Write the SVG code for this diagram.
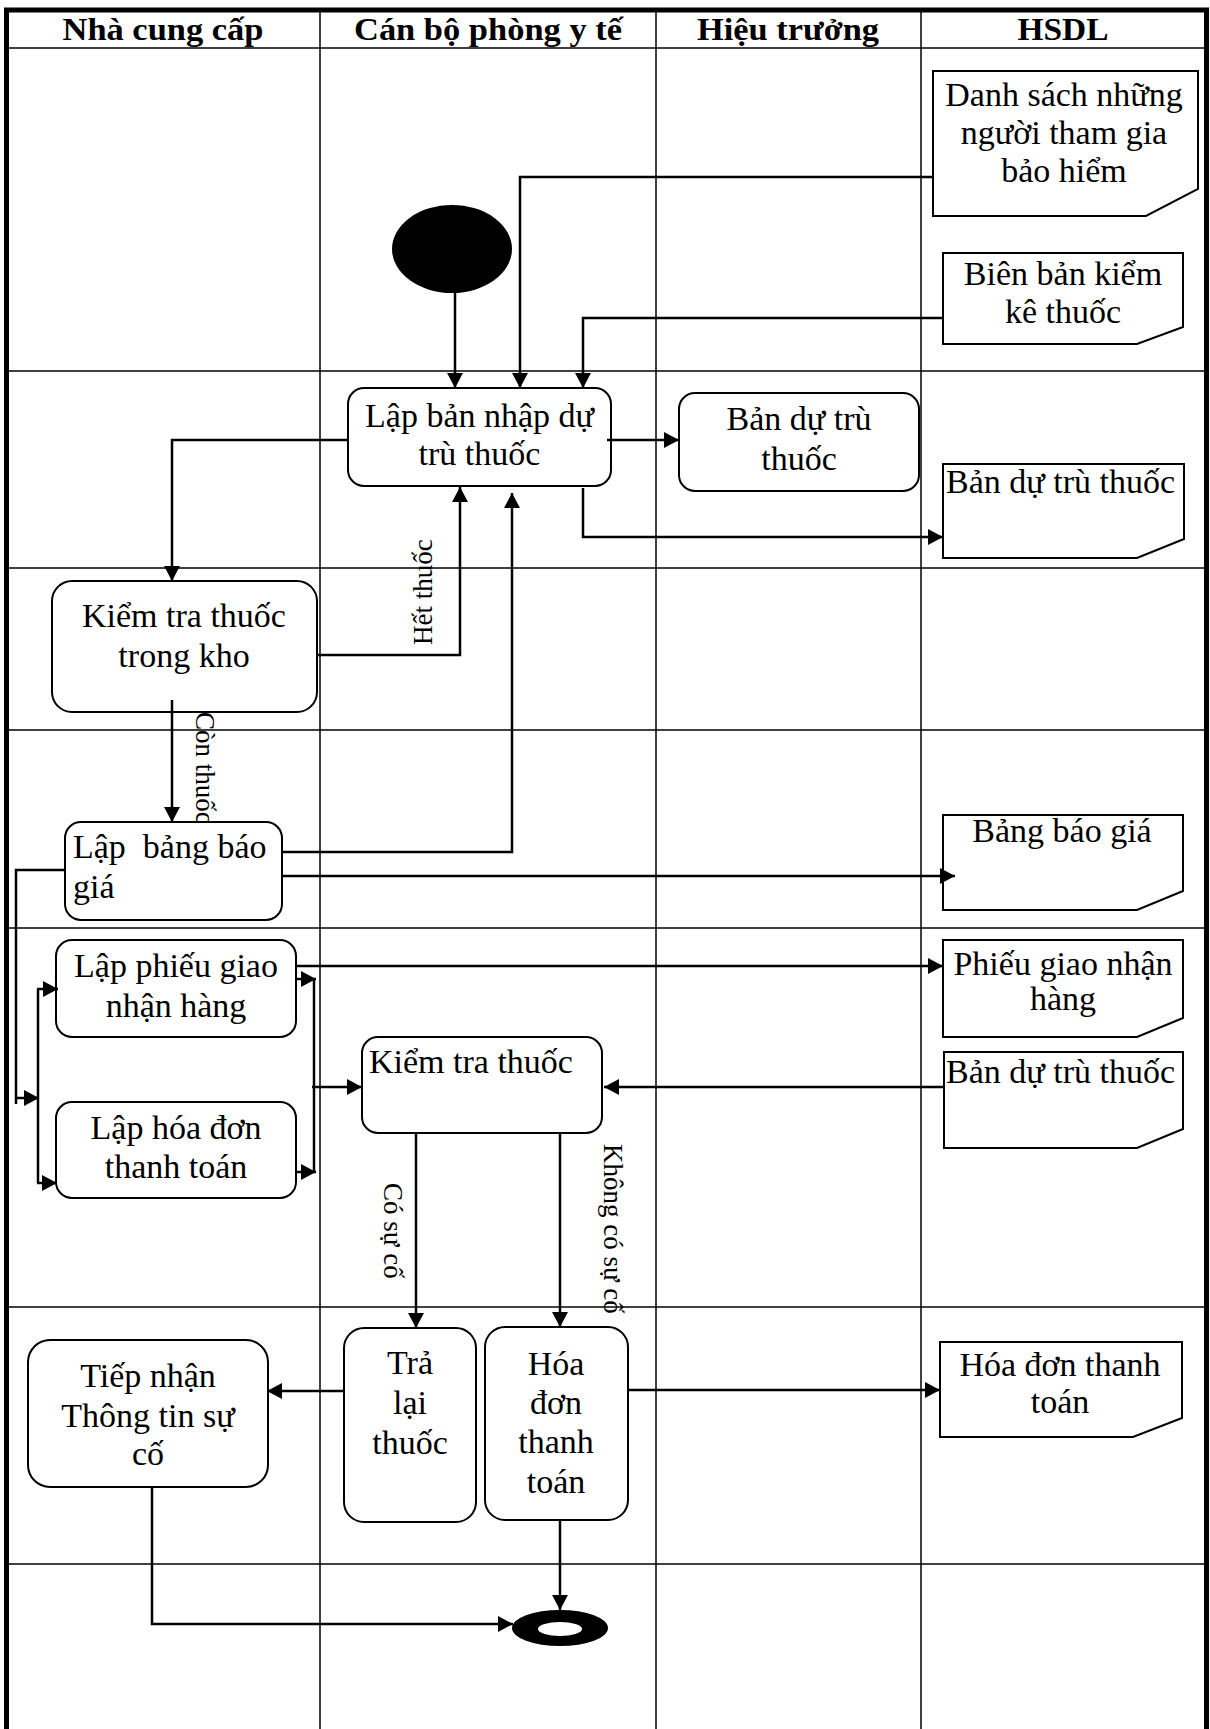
<svg xmlns="http://www.w3.org/2000/svg" width="1210" height="1729" viewBox="0 0 1210 1729">
<style>
.grid{stroke:#000;stroke-width:1.5;fill:none}
.border{stroke:#000;stroke-width:5;fill:none}
.node{fill:#fff;stroke:#000;stroke-width:2}
.conn{fill:none;stroke:#000;stroke-width:2.5}
.t{font-family:"Liberation Serif","Times New Roman",serif;font-size:34px;fill:#000}
.c{text-anchor:middle}
.h{font-weight:bold;font-size:31px}
.lbl{font-size:27px}
</style>
<defs>
<marker id="ah" markerUnits="userSpaceOnUse" markerWidth="16" markerHeight="16" refX="15" refY="8" orient="auto">
<path d="M0,0 L15,8 L0,16 z" fill="#000"/>
</marker>
</defs>
<rect width="1210" height="1729" fill="#fff"/>
<g id="lanes">
<line class="grid" x1="320" y1="10" x2="320" y2="1729"/>
<line class="grid" x1="656" y1="10" x2="656" y2="1729"/>
<line class="grid" x1="921" y1="10" x2="921" y2="1729"/>
<line class="grid" x1="6" y1="48" x2="1206" y2="48"/>
<line class="grid" x1="6" y1="371" x2="1206" y2="371"/>
<line class="grid" x1="6" y1="568" x2="1206" y2="568"/>
<line class="grid" x1="6" y1="730" x2="1206" y2="730"/>
<line class="grid" x1="6" y1="928" x2="1206" y2="928"/>
<line class="grid" x1="6" y1="1307" x2="1206" y2="1307"/>
<line class="grid" x1="6" y1="1564" x2="1206" y2="1564"/>
<path class="border" d="M6.5,1729 V10 H1206.5 V1729"/>
<text class="t h c" x="163" y="40" textLength="201" lengthAdjust="spacingAndGlyphs">Nhà cung cấp</text>
<text class="t h c" x="488" y="40" textLength="268" lengthAdjust="spacingAndGlyphs">Cán bộ phòng y tế</text>
<text class="t h c" x="788" y="40" textLength="182" lengthAdjust="spacingAndGlyphs">Hiệu trưởng</text>
<text class="t h c" x="1063" y="40" textLength="91" lengthAdjust="spacingAndGlyphs">HSDL</text>
</g>
<g id="start"><ellipse cx="452" cy="249" rx="60" ry="44" fill="#000"/></g>
<g id="n_lapban"><rect class="node" x="348" y="388" width="263" height="98" rx="16"/>
<text class="t c" x="479.5" y="427">Lập bản nhập dự</text><text class="t c" x="479.5" y="465">trù thuốc</text></g>
<g id="n_bandutru_ht"><rect class="node" x="679" y="393" width="240" height="98" rx="16"/>
<text class="t c" x="799" y="430">Bản dự trù</text><text class="t c" x="799" y="470">thuốc</text></g>
<g id="doc_danhsach"><path class="node" d="M933,71 H1198 V189 L1146,216 H933 Z"/>
<text class="t c" x="1064" y="106">Danh sách những</text><text class="t c" x="1064" y="144">người tham gia</text><text class="t c" x="1064" y="182">bảo hiểm</text></g>
<g id="doc_bienban"><path class="node" d="M943,253 H1183 V327 L1137,344 H943 Z"/>
<text class="t c" x="1063" y="285">Biên bản kiểm</text><text class="t c" x="1063" y="323">kê thuốc</text></g>
<g id="doc_bandutru1"><path class="node" d="M943,464 H1184 V539 L1137,558 H943 Z"/>
<text class="t" x="946" y="493">Bản dự trù thuốc</text></g>
<g id="n_kiemtrakho"><rect class="node" x="52" y="581" width="265" height="131" rx="20"/>
<text class="t c" x="184" y="627">Kiểm tra thuốc</text><text class="t c" x="184" y="667">trong kho</text></g>
<g id="n_lapbangbaogia"><rect class="node" x="65" y="822" width="217" height="98" rx="16"/>
<text class="t" x="73" y="858" xml:space="preserve">Lập  bảng báo</text><text class="t" x="73" y="898">giá</text></g>
<g id="doc_banggia"><path class="node" d="M943,815 H1183 V891 L1137,910 H943 Z"/>
<text class="t c" x="1062" y="842">Bảng báo giá</text></g>
<g id="n_lapphieu"><rect class="node" x="56" y="940" width="240" height="97" rx="16"/>
<text class="t c" x="176" y="977">Lập phiếu giao</text><text class="t c" x="176" y="1017">nhận hàng</text></g>
<g id="n_laphoadon"><rect class="node" x="56" y="1102" width="240" height="96" rx="16"/>
<text class="t c" x="176" y="1139">Lập hóa đơn</text><text class="t c" x="176" y="1178">thanh toán</text></g>
<g id="doc_phieu"><path class="node" d="M943,940 H1183 V1018 L1137,1037 H943 Z"/>
<text class="t c" x="1063" y="975">Phiếu giao nhận</text><text class="t c" x="1063" y="1010">hàng</text></g>
<g id="n_kiemtra"><rect class="node" x="362" y="1037" width="240" height="96" rx="16"/>
<text class="t" x="369" y="1073">Kiểm tra thuốc</text></g>
<g id="doc_bandutru2"><path class="node" d="M944,1052 H1183 V1129 L1137,1148 H944 Z"/>
<text class="t" x="946" y="1083">Bản dự trù thuốc</text></g>
<g id="n_tralai"><rect class="node" x="344" y="1328" width="132" height="194" rx="20"/>
<text class="t c" x="410" y="1374">Trả</text><text class="t c" x="410" y="1414">lại</text><text class="t c" x="410" y="1454">thuốc</text></g>
<g id="n_hoadon"><rect class="node" x="485" y="1327" width="143" height="193" rx="20"/>
<text class="t c" x="556" y="1375">Hóa</text><text class="t c" x="556" y="1414">đơn</text><text class="t c" x="556" y="1453">thanh</text><text class="t c" x="556" y="1493">toán</text></g>
<g id="doc_hoadon"><path class="node" d="M940,1342 H1182 V1418 L1133,1437 H940 Z"/>
<text class="t c" x="1060" y="1376">Hóa đơn thanh</text><text class="t c" x="1060" y="1413">toán</text></g>
<g id="n_tiepnhan"><rect class="node" x="28" y="1340" width="240" height="147" rx="22"/>
<text class="t c" x="148" y="1387">Tiếp nhận</text><text class="t c" x="148" y="1427">Thông tin sự</text><text class="t c" x="148" y="1465">cố</text></g>
<g id="end"><ellipse cx="560" cy="1628" rx="48" ry="18" fill="#000"/><ellipse cx="560" cy="1629" rx="22" ry="7" fill="#fff"/></g>
<g id="connectors">
<path class="conn" d="M455,293 V388" marker-end="url(#ah)"/>
<path class="conn" d="M933,177 H520 V388" marker-end="url(#ah)"/>
<path class="conn" d="M943,318 H583 V388" marker-end="url(#ah)"/>
<path class="conn" d="M607,440 H679" marker-end="url(#ah)"/>
<path class="conn" d="M583,488 V537 H943" marker-end="url(#ah)"/>
<path class="conn" d="M348,440 H172 V581" marker-end="url(#ah)"/>
<path class="conn" d="M317,655 H460 V487" marker-end="url(#ah)"/>
<path class="conn" d="M172,700 V822" marker-end="url(#ah)"/>
<path class="conn" d="M282,852 H512 V493" marker-end="url(#ah)"/>
<path class="conn" d="M282,876 H955" marker-end="url(#ah)"/>
<path class="conn" d="M65,870 H16 V1104"/>
<path class="conn" d="M16,1098 H39" marker-end="url(#ah)"/>
<path class="conn" d="M38,989 V1183"/>
<path class="conn" d="M37,989 H58" marker-end="url(#ah)"/>
<path class="conn" d="M37,1183 H57" marker-end="url(#ah)"/>
<path class="conn" d="M296,979 H316" marker-end="url(#ah)"/>
<path class="conn" d="M296,1172 H316" marker-end="url(#ah)"/>
<path class="conn" d="M314,979 V1172"/>
<path class="conn" d="M312,1087 H362" marker-end="url(#ah)"/>
<path class="conn" d="M297,966 H943" marker-end="url(#ah)"/>
<path class="conn" d="M944,1087 H604" marker-end="url(#ah)"/>
<path class="conn" d="M416,1133 V1328" marker-end="url(#ah)"/>
<path class="conn" d="M560,1133 V1327" marker-end="url(#ah)"/>
<path class="conn" d="M344,1391 H267" marker-end="url(#ah)"/>
<path class="conn" d="M628,1390 H940" marker-end="url(#ah)"/>
<path class="conn" d="M152,1487 V1624 H513" marker-end="url(#ah)"/>
<path class="conn" d="M560,1520 V1610" marker-end="url(#ah)"/>
<text class="t lbl" transform="translate(432,645) rotate(-90)">Hết thuốc</text>
<text class="t lbl" transform="translate(196,712) rotate(90)">Còn thuốc</text>
<text class="t lbl" transform="translate(384,1183) rotate(90)">Có sự cố</text>
<text class="t lbl" transform="translate(604,1144) rotate(90)">Không có sự cố</text>
</g>
</svg>
